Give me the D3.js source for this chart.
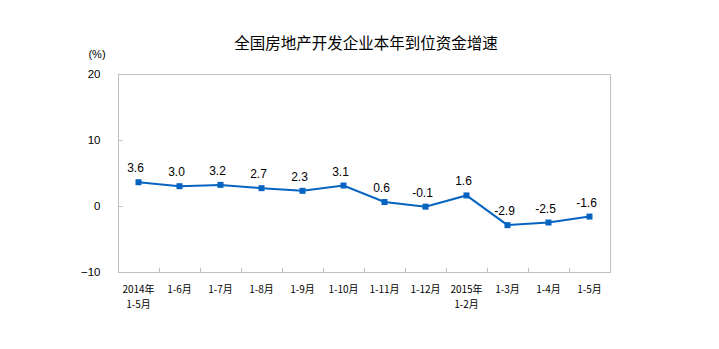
<!DOCTYPE html>
<html>
<head>
<meta charset="utf-8">
<script src="https://cdn.jsdelivr.net/npm/d3@7"></script>
<style>
  html, body { margin: 0; padding: 0; background: #fff; }
  svg { display: block; }
</style>
</head>
<body>
<svg id="chart" width="719" height="349"></svg>
<script>
// Period labels (first line / optional second line)
const categories = [
  ["2014年", "1-5月"], ["1-6月"], ["1-7月"], ["1-8月"], ["1-9月"], ["1-10月"],
  ["1-11月"], ["1-12月"], ["2015年", "1-2月"], ["1-3月"], ["1-4月"], ["1-5月"]
];
// Year-to-date growth of funds in place (%)
const values = [3.6, 3.0, 3.2, 2.7, 2.3, 3.1, 0.6, -0.1, 1.6, -2.9, -2.5, -1.6];
const yTicks = [-10, 0, 10, 20];
const title = "全国房地产开发企业本年到位资金增速";
const unitLabel = "(%)";

const svg = d3.select("#chart");
const margin = { left: 118, right: 109, top: 74, bottom: 77 };
const W = 719, H = 349;
const plotW = W - margin.left - margin.right;
const plotH = H - margin.top - margin.bottom;

const x = d3.scaleBand().domain(d3.range(categories.length)).range([margin.left, margin.left + plotW]);
const y = d3.scaleLinear().domain([-10, 20]).range([margin.top + plotH, margin.top]);

const cjk = "'Noto Sans CJK SC', sans-serif";
const latin = "'Liberation Sans', Arial, sans-serif";
const blue = "#0563c1";

// Title
svg.append("text")
  .attr("x", 366).attr("y", 49)
  .attr("text-anchor", "middle")
  .attr("font-family", cjk).attr("font-size", 15.5)
  .attr("fill", "#000")
  .text(title);

// Unit
svg.append("text")
  .attr("x", 97).attr("y", 58)
  .attr("text-anchor", "middle")
  .attr("font-family", latin).attr("font-size", 11)
  .text(unitLabel);

// Plot frame
svg.append("rect")
  .attr("x", margin.left + 0.5).attr("y", margin.top + 0.5)
  .attr("width", plotW).attr("height", plotH)
  .attr("fill", "none").attr("stroke", "#bfbfbf").attr("stroke-width", 1);

// Y axis (ticks pointing inward)
const yAxis = d3.axisLeft(y).tickValues(yTicks).tickSize(-4).tickPadding(18).tickFormat(d3.format("d"));
const gy = svg.append("g").attr("transform", `translate(${margin.left + 0.5},0)`).call(yAxis);
gy.select(".domain").remove();
gy.selectAll(".tick line").attr("stroke", "#bfbfbf");
gy.selectAll(".tick text").attr("font-family", latin).attr("font-size", 11.5).attr("fill", "#000");

// X axis category boundary ticks (pointing upward)
const boundaries = d3.range(1, categories.length);
svg.append("g").selectAll("line").data(boundaries).join("line")
  .attr("x1", d => Math.round(x(d)) + 0.5).attr("x2", d => Math.round(x(d)) + 0.5)
  .attr("y1", margin.top + plotH).attr("y2", margin.top + plotH - 4)
  .attr("stroke", "#bfbfbf");

// X labels
const xl = svg.append("g").selectAll("text").data(categories).join("text")
  .attr("x", (d, i) => x(i) + x.bandwidth() / 2)
  .attr("y", 293)
  .attr("text-anchor", "middle")
  .attr("font-family", cjk).attr("font-size", 10).attr("fill", "#000");
xl.selectAll("tspan").data(d => d).join("tspan")
  .attr("x", function () { return d3.select(this.parentNode).attr("x"); })
  .attr("dy", (d, i) => i === 0 ? 0 : 15)
  .text(d => d);

// Line
const cx = i => x(i) + x.bandwidth() / 2;
svg.append("path")
  .datum(values)
  .attr("d", d3.line().x((d, i) => cx(i)).y(d => y(d)))
  .attr("fill", "none").attr("stroke", blue).attr("stroke-width", 2);

// Markers
svg.append("g").selectAll("rect").data(values).join("rect")
  .attr("x", (d, i) => cx(i) - 3).attr("y", d => y(d) - 3)
  .attr("width", 6).attr("height", 6).attr("fill", blue);

// Value labels
svg.append("g").selectAll("text").data(values).join("text")
  .attr("x", (d, i) => cx(i) - 3)
  .attr("y", d => y(d) - 10)
  .attr("text-anchor", "middle")
  .attr("font-family", latin).attr("font-size", 12).attr("fill", "#000")
  .text(d => d.toFixed(1));
</script>
</body>
</html>
